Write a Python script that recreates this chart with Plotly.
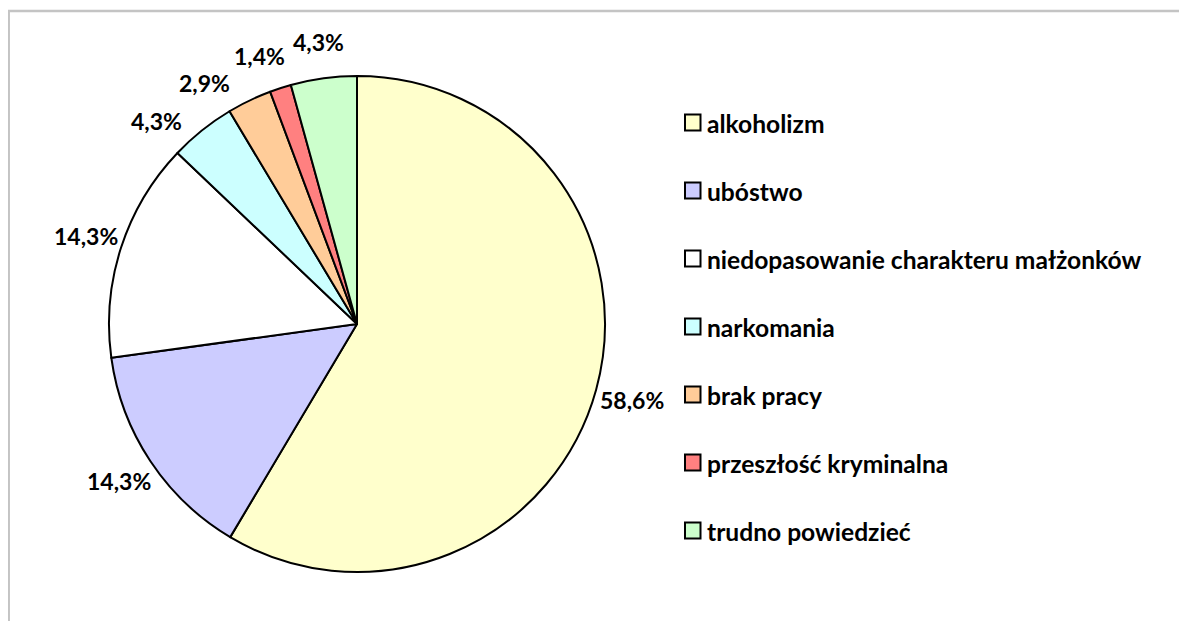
import math
import plotly.graph_objects as go

categories = ["alkoholizm", "ubóstwo", "niedopasowanie charakteru małżonków",
              "narkomania", "brak pracy", "przeszłość kryminalna", "trudno powiedzieć"]
values = [58.6, 14.3, 14.3, 4.3, 2.9, 1.4, 4.3]
value_labels = ["58,6%", "14,3%", "14,3%", "4,3%", "2,9%", "1,4%", "4,3%"]
colors = ["#FFFFCC", "#CCCCFF", "#FFFFFF", "#CCFFFF", "#FFCC99", "#FF8080", "#CCFFCC"]

OFF = 8                      # page body margin
FW, FH = 1179, 613
CX, CY, R = 357, 324, 248    # screen pixels
FONT = "Lato"


def px(sx):
    return (sx - OFF) / FW


def py(sy):
    return 1 - (sy - OFF) / FH


fig = go.Figure(go.Pie(
    labels=categories, values=values, sort=False, direction="clockwise", rotation=0,
    marker=dict(colors=colors, line=dict(color="black", width=2)),
    textinfo="none", hoverinfo="label+percent", showlegend=False,
    domain=dict(x=[px(CX - R), px(CX + R)], y=[py(CY + R), py(CY - R)]),
))

# label angles at slice midpoints; crowded labels pushed counter-clockwise
total = sum(values)
angles = []
cum = 0
for v in values:
    angles.append(90 - 360 * (cum + v / 2) / total)
    cum += v
MIN_GAP = 12.3
for i in range(len(angles) - 2, -1, -1):
    if angles[i] - angles[i + 1] < MIN_GAP:
        angles[i] = angles[i + 1] + MIN_GAP

annotations = []
LR = 285
for ang, txt in zip(angles, value_labels):
    a = math.radians(ang)
    sx = CX + LR * math.cos(a)
    sy = CY - LR * math.sin(a)
    annotations.append(dict(x=px(sx), y=py(sy), xref="paper", yref="paper",
                            text=f"<b>{txt}</b>", showarrow=False,
                            xanchor="center", yanchor="middle",
                            font=dict(family=FONT, size=23, color="black")))

# custom legend
shapes = []
LX, LY0, LSTEP = 685, 122.5, 68
for i, (cat, col) in enumerate(zip(categories, colors)):
    cy = LY0 + i * LSTEP
    shapes.append(dict(type="rect", xref="paper", yref="paper",
                       x0=px(LX), x1=px(LX + 15.5), y0=py(cy + 8), y1=py(cy - 8),
                       fillcolor=col, line=dict(color="black", width=2)))
    annotations.append(dict(x=px(LX + 20), y=py(cy + 1), xref="paper", yref="paper",
                            text=f"<b>{cat}</b>", showarrow=False,
                            xanchor="left", yanchor="middle",
                            font=dict(family=FONT, size=24.6, color="black")))

# outer frame
shapes.append(dict(type="rect", xref="paper", yref="paper",
                   x0=px(8.7), x1=1.05, y0=-0.05, y1=py(11),
                   line=dict(color="#C4C4C4", width=2.5), fillcolor="rgba(0,0,0,0)"))

fig.update_layout(width=FW, height=FH, margin=dict(l=0, r=0, t=0, b=0),
                  paper_bgcolor="white", plot_bgcolor="white",
                  annotations=annotations, shapes=shapes)

fig.write_html("out.html")
